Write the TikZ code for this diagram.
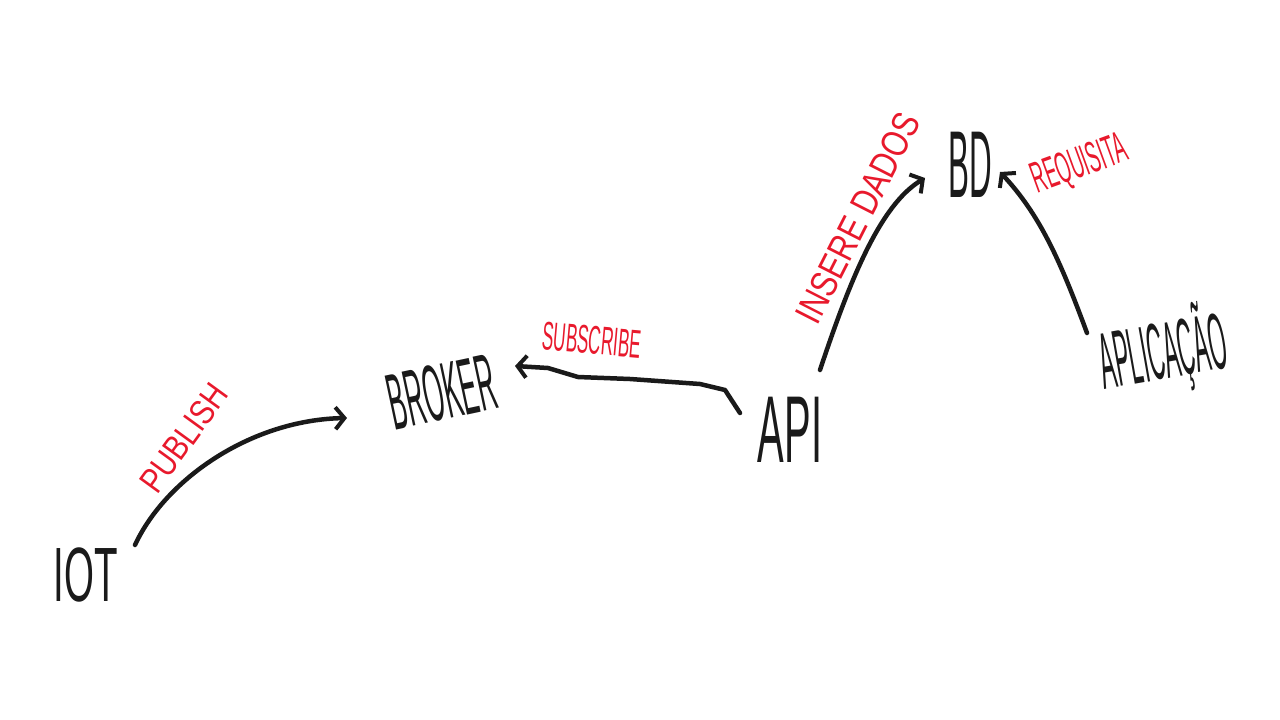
\documentclass[tikz,border=0pt]{standalone}
\usepackage{fontspec}
\setmainfont{Liberation Sans}
\usetikzlibrary{arrows.meta}
\definecolor{hred}{HTML}{E8192C}
\definecolor{hink}{HTML}{1A1A1A}
\tikzset{
  word/.style={inner sep=0pt, text=hink},
  tag/.style={inner sep=0pt, text=hred},
  link/.style={draw=hink, line width=4.5pt, line cap=round, line join=round,
    -{Straight Barb[length=9pt,width=22pt,line width=4pt]}}
}
\newcommand{\hw}[3]{\scalebox{#1}[1]{\fontsize{#2}{#2}\selectfont #3}}
\begin{document}
\begin{tikzpicture}[x=1pt,y=-1pt]
\useasboundingbox (0,0) rectangle (1280,720);
% main nodes
\node[word] (iot) at (86,575) {\hw{0.5}{77}{IOT}};
\node[word, rotate=12] (broker) at (442,392) {\hw{0.32}{80}{BROKER}};
\node[word] (api) at (790,430) {\hw{0.42}{95}{API}};
\node[word] (bd) at (970,165) {\hw{0.33}{95}{BD}};
\node[word, rotate=10] (app) at (1163,352) {\hw{0.28}{80}{APLICAÇÃO}};
% labels
\node[tag, rotate=54] (lpub) at (184,438) {\hw{0.83}{35}{PUBLISH}};
\node[tag, rotate=-5] (lsub) at (592,340) {\hw{0.43}{40}{SUBSCRIBE}};
\node[tag, rotate=63] (lins) at (858,218) {\hw{0.8}{38}{INSERE DADOS}};
\node[tag, rotate=20] (lreq) at (1080,166) {\hw{0.42}{44}{REQUISITA}};
% connectors
\draw[link] ([shift={(49,-30)}]iot.center) .. controls (165,480) and (250,420) .. ([shift={(-95,26)}]broker.center);
\draw[link] ([shift={(-50,-17)}]api.center) -- (725,390) -- (700,384) -- (630,379) -- (578,377) -- (548,368) -- ([shift={(73,-26)}]broker.center);
\draw[link] ([shift={(30,-60)}]api.center) .. controls (850,280) and (880,205) .. ([shift={(-45,13)}]bd.center);
\draw[link] ([shift={(-76,-19)}]app.center) .. controls (1060,260) and (1040,215) .. ([shift={(30,7)}]bd.center);
\end{tikzpicture}
\end{document}
